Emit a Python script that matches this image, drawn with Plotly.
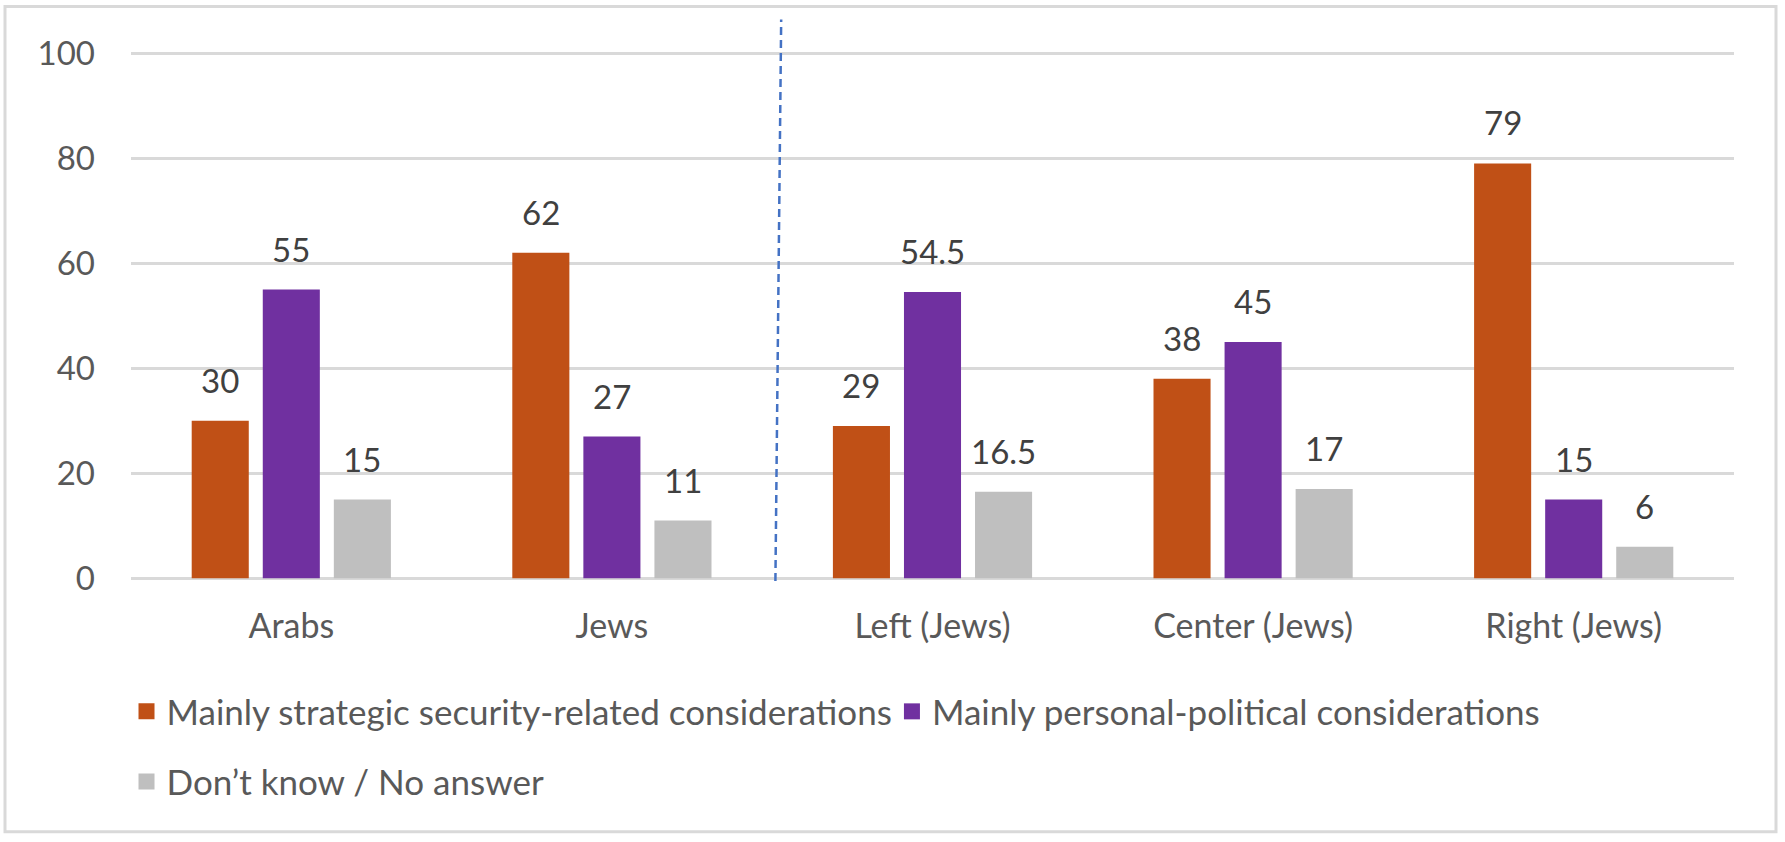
import plotly.graph_objects as go

categories = ["Arabs", "Jews", "Left (Jews)", "Center (Jews)", "Right (Jews)"]
series_names = [
    "Mainly strategic security-related considerations",
    "Mainly personal-political considerations",
    "Don\u2019t know / No answer",
]
strategic = [30, 62, 29, 38, 79]
personal = [55, 27, 54.5, 45, 15]
dont_know = [15, 11, 16.5, 17, 6]
y_ticks = [0, 20, 40, 60, 80, 100]

colors = ["#C05016", "#7030A0", "#BFBFBF"]
values = [strategic, personal, dont_know]

FONT = "Lato"
BARGAP = 0.335
BARGROUPGAP = 0.197

fig = go.Figure()
xs = list(range(len(categories)))
for name, vals, col in zip(series_names, values, colors):
    fig.add_trace(go.Bar(x=xs, y=vals, name=name, marker_color=col,
                         marker_line_width=0, showlegend=False, hoverinfo="skip"))

# legend entries (larger square markers), one legend box per entry
legend_ids = ["legend", "legend2", "legend3"]
for name, col, lg in zip(series_names, colors, legend_ids):
    fig.add_trace(go.Scatter(x=[None], y=[None], mode="markers", name=name,
                             marker=dict(symbol="square", size=20, color=col),
                             legend=lg))

slot = (1 - BARGAP) / 3
annotations = []
for k, vals in enumerate(values):
    off = (k - 1) * slot
    for i, v in enumerate(vals):
        annotations.append(dict(x=i + off, y=v, xref="x", yref="y", text=f"{v:g}",
                                showarrow=False, yanchor="bottom", yshift=19,
                                font=dict(family=FONT, size=33, color="#404040")))

shapes = [
    dict(type="line", xref="x", yref="y", x0=1.51, y0=-0.5, x1=1.528, y1=106.4,
         line=dict(color="#4472C4", width=2.5, dash="8px,5px")),
    dict(type="rect", xref="paper", yref="paper", x0=-0.0786, x1=1.0262,
         y0=-0.4462, y1=1.0221, line=dict(color="#D9D9D9", width=3), layer="below"),
]

legend_style = dict(orientation="h", xanchor="left", yanchor="middle",
                    font=dict(family=FONT, size=35, color="#595959"),
                    bgcolor="rgba(0,0,0,0)", itemclick=False, itemdoubleclick=False)

fig.update_layout(
    width=1785, height=842,
    margin=dict(l=131, r=51, t=19, b=261),
    paper_bgcolor="white", plot_bgcolor="white",
    barmode="group", bargap=BARGAP, bargroupgap=BARGROUPGAP,
    font=dict(family=FONT, size=34, color="#595959"),
    xaxis=dict(range=[-0.5, 4.5], tickvals=xs, ticktext=categories, showgrid=False,
               zeroline=False, showline=False, ticks="", ticklabelstandoff=22,
               tickfont=dict(family=FONT, size=34, color="#595959")),
    yaxis=dict(range=[-0.5, 106.5], tickvals=y_ticks, showgrid=True, gridcolor="#D9D9D9",
               gridwidth=2.5, zeroline=False, showline=False, ticks="", ticklabelstandoff=35,
               tickfont=dict(family=FONT, size=33, color="#595959")),
    legend=dict(x=-0.0028, y=-0.2324, **legend_style),
    legend2=dict(x=0.4747, y=-0.2324, **legend_style),
    legend3=dict(x=-0.0028, y=-0.357, **legend_style),
    annotations=annotations,
    shapes=shapes,
)

fig.write_html("out.html", config={"displayModeBar": False},
               post_script="document.body.style.margin='0px';")
